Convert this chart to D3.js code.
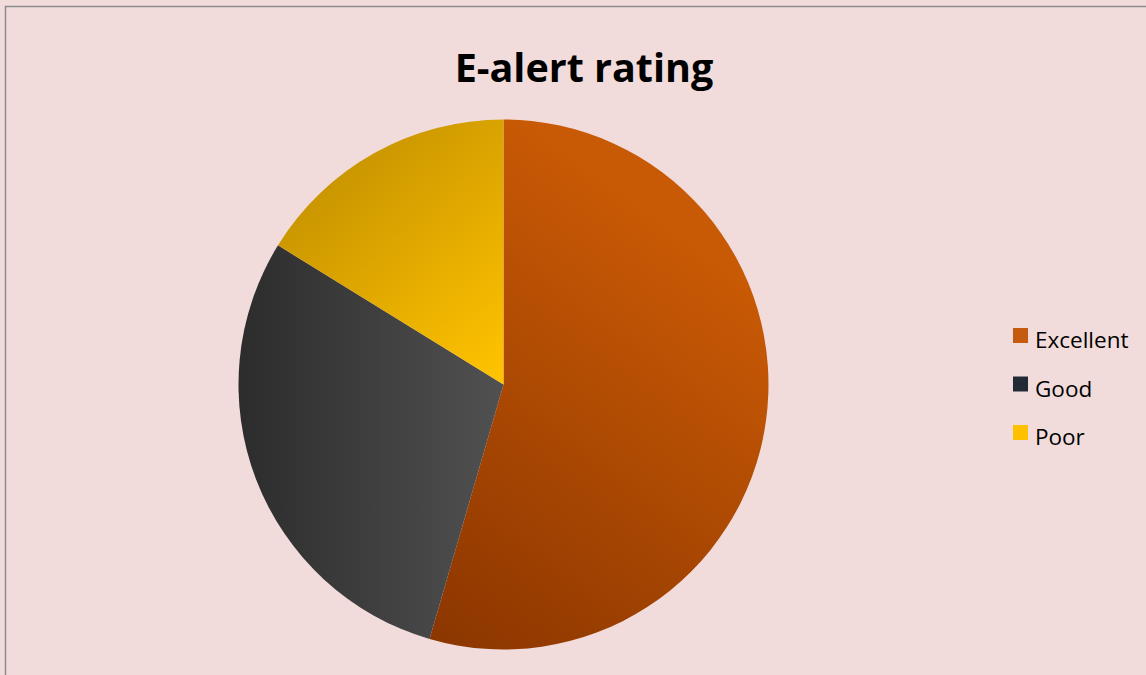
<!DOCTYPE html>
<html>
<head>
<meta charset="utf-8">
<script src="https://cdn.jsdelivr.net/npm/d3@7"></script>
<style>
  html, body { margin: 0; padding: 0; background: #F2DCDB; }
  svg { display: block; }
</style>
</head>
<body>
<script>
// E-alert rating survey shares
const categories = ["Excellent", "Good", "Poor"];
const values = [54.5, 29.3, 16.2];
const legendColors = ["#C55A11", "#222A35", "#FFC000"];
// slice gradient stops: [dark end, light end]
const sliceStops = [["#8A3500", "#C95A05"], ["#2C2C2C", "#515151"], ["#BC8A00", "#FFC300"]];

const W = 1146, H = 675;
const cx = 503.5, cy = 384.5, r = 265;

const svg = d3.select("body").append("svg")
  .attr("width", W).attr("height", H);

svg.append("rect")
  .attr("x", 5.5).attr("y", 6.5)
  .attr("width", W + 10).attr("height", H + 10)
  .attr("fill", "#F2DCDB")
  .attr("stroke", "#8C8C8C").attr("stroke-width", 1.5);

// title
svg.append("text")
  .attr("x", 584).attr("y", 82)
  .attr("text-anchor", "middle")
  .attr("font-family", "'Open Sans', 'DejaVu Sans', sans-serif")
  .attr("font-weight", "bold")
  .attr("font-size", 39.5)
  .attr("fill", "#000")
  .text("E-alert rating");

const pie = d3.pie().sort(null).value(d => d)(values);
const arc = d3.arc().innerRadius(0).outerRadius(r);

// per-slice linear gradients in the pie group's local space (origin = centre)
const defs = svg.append("defs");
const gradDirs = [
  // Excellent: dark lower-left -> bright upper-right
  { x1: -80, y1: r, x2: r * 0.8, y2: -r * 0.5 },
  // Good: dark left -> lighter right
  { x1: -r, y1: 0, x2: 0, y2: 0 },
  // Poor: dark upper-left -> bright towards centre
  { x1: -r * 0.85, y1: -r * 0.95, x2: 0, y2: -10 }
];
pie.forEach((p, i) => {
  const g = defs.append("linearGradient")
    .attr("id", "g" + i)
    .attr("gradientUnits", "userSpaceOnUse")
    .attr("x1", gradDirs[i].x1).attr("y1", gradDirs[i].y1)
    .attr("x2", gradDirs[i].x2).attr("y2", gradDirs[i].y2);
  g.append("stop").attr("offset", "0%").attr("stop-color", sliceStops[i][0]);
  g.append("stop").attr("offset", "100%").attr("stop-color", sliceStops[i][1]);
});

svg.append("g")
  .attr("transform", `translate(${cx},${cy})`)
  .selectAll("path")
  .data(pie)
  .join("path")
  .attr("d", arc)
  .attr("fill", (d, i) => `url(#g${i})`);

// legend
const legend = svg.append("g").attr("transform", "translate(1013,328)");
const item = legend.selectAll("g")
  .data(categories)
  .join("g")
  .attr("transform", (d, i) => `translate(0,${i * 48.5})`);
item.append("rect")
  .attr("width", 15).attr("height", 15)
  .attr("fill", (d, i) => legendColors[i]);
item.append("text")
  .attr("x", 22).attr("y", 20)
  .attr("font-family", "'Open Sans', 'DejaVu Sans', sans-serif")
  .attr("font-size", 22.5)
  .attr("fill", "#000")
  .text(d => d);
</script>
</body>
</html>
